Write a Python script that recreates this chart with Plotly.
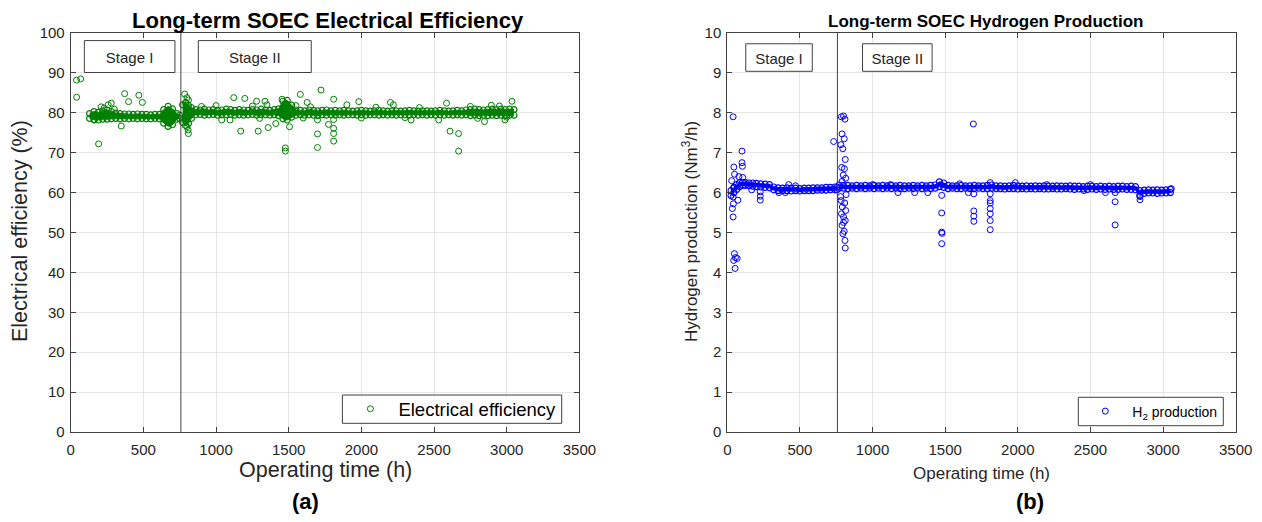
import plotly.graph_objects as go

# ---------------- data ----------------
STAGE_SPLIT_H = 758

# (a) electrical efficiency: dense band edges (Stage I)
eff_t1 = [130, 160, 190, 220, 250, 280, 310, 340, 370, 400, 430, 460, 490, 520, 550, 580, 610, 640, 670, 700, 730, 750]
eff_hi1 = [79.8, 80.3, 80.1, 80.5, 80.7, 80.3, 79.9, 79.8, 79.7, 79.7, 79.6, 79.7, 79.6, 79.6, 79.5, 79.6, 79.6, 80.8, 81.6, 81.0, 79.8, 79.4]
eff_lo1 = [78.6, 78.3, 78.2, 78.4, 78.4, 78.5, 78.6, 78.5, 78.6, 78.5, 78.6, 78.5, 78.6, 78.5, 78.5, 78.6, 78.5, 77.4, 76.6, 77.0, 78.4, 78.6]

# (a) dense band edges (Stage II)
eff_t2 = [770, 790, 810, 830,
          860, 890, 920, 950, 980, 1010, 1040, 1070, 1100, 1130, 1160, 1190, 1220, 1250, 1280, 1310, 1340, 1370, 1400, 1430,
          1460, 1490, 1520,
          1550, 1580, 1610, 1640, 1670, 1700, 1730, 1760, 1790, 1820,
          1850, 1880, 1910, 1940, 1970, 2000, 2030, 2060, 2090, 2120,
          2150, 2180, 2210, 2240, 2270, 2300, 2330, 2360, 2390, 2420,
          2450, 2480, 2510, 2540, 2570, 2600, 2630, 2660, 2690, 2720,
          2750, 2780, 2810, 2840, 2870, 2900, 2930, 2960, 2990, 3020,
          3050]
eff_hi2 = [82.0, 82.6, 81.9, 81.3,
           80.8, 80.7, 80.9, 80.7, 80.8, 80.6, 80.7, 80.9, 80.8, 80.6, 80.8, 80.7, 80.6, 80.8, 80.7, 80.9, 80.7, 80.6, 80.8, 81.0,
           82.9, 83.1, 81.9,
           80.7, 80.6, 80.5, 80.7, 80.6, 80.5, 80.6, 80.7, 80.5, 80.6,
           80.5, 80.6, 80.5, 80.4, 80.5, 80.6, 80.5, 80.4, 80.5, 80.6,
           80.5, 80.4, 80.5, 80.5, 80.4, 80.5, 80.6, 80.5, 80.4, 80.5,
           80.5, 80.4, 80.5, 80.6, 80.5, 80.4, 80.5, 80.6, 80.5, 80.7,
           80.8, 80.9, 80.8, 80.7, 80.8, 80.9, 80.8, 80.9, 80.8, 80.9,
           80.8]
eff_lo2 = [77.6, 76.8, 77.3, 78.6,
           79.5, 79.6, 79.4, 79.5, 79.6, 79.4, 79.5, 79.5, 79.6, 79.4, 79.5, 79.4, 79.5, 79.6, 79.4, 79.5, 79.5, 79.4, 79.5, 79.3,
           78.5, 78.2, 78.9,
           79.4, 79.5, 79.4, 79.5, 79.4, 79.3, 79.5, 79.4, 79.5, 79.4,
           79.5, 79.4, 79.5, 79.5, 79.4, 79.5, 79.4, 79.5, 79.5, 79.4,
           79.5, 79.4, 79.5, 79.4, 79.5, 79.5, 79.4, 79.5, 79.4, 79.5,
           79.4, 79.5, 79.4, 79.5, 79.4, 79.5, 79.4, 79.5, 79.4, 79.5,
           79.3, 79.4, 79.3, 79.4, 79.3, 79.4, 79.3, 79.4, 79.3, 79.4,
           79.4]

# (a) scattered readings away from the band
eff_out_t = [40, 69, 41, 163, 192, 258, 279, 348, 371, 398, 469, 493, 230, 300, 210,
             784, 800, 810, 795, 808, 810, 800, 790,
             1039, 1096, 1122, 1170, 1198, 1279, 1290, 1337, 1359, 1411, 1454, 1477, 1477, 1506,
             1580, 1627, 1698, 1698, 1698, 1722, 1774, 1809, 1809, 1809, 1809, 1809,
             1900, 1982, 2200, 2220, 2342, 2532, 2586, 2610, 2669, 2669, 2847, 2894, 2988, 3036,
             900, 1000, 1250, 1350, 1550, 1650, 2100, 2400, 2750, 2950,
             1300, 1600, 2000, 2300, 2800, 3000]
eff_out_v = [88.2, 88.5, 83.9, 78.2, 72.2, 82.0, 82.4, 76.7, 84.8, 82.8, 84.4, 82.6, 81.2, 80.9, 81.5,
             84.7, 83.8, 83.2, 82.4, 75.7, 74.8, 76.5, 78.0,
             78.2, 78.2, 83.8, 75.4, 83.6, 82.9, 75.4, 82.9, 76.3, 77.3, 83.4, 71.2, 70.4, 76.5,
             84.6, 82.6, 78.2, 74.7, 71.3, 85.7, 77.1, 83.4, 78.3, 76.1, 74.8, 72.9,
             82.0, 82.8, 82.6, 82.0, 78.2, 78.2, 82.4, 75.4, 74.8, 70.4, 77.8, 81.9, 78.2, 82.9,
             81.6, 81.8, 81.7, 82.0, 81.8, 81.5, 81.4, 81.3, 81.6, 81.7,
             78.6, 78.7, 78.7, 78.8, 78.6, 78.9]

# (b) hydrogen production: dense band (Stage I)
h2_t1 = [25, 45, 65, 85, 105, 125, 150, 175, 200, 230, 260, 290, 320, 350, 380, 410, 440, 470, 500, 530, 560, 590, 620, 650, 680, 710, 740, 755]
h2_hi1 = [6.05, 6.12, 6.20, 6.25, 6.26, 6.25, 6.24, 6.24, 6.23, 6.22, 6.21, 6.20, 6.14, 6.12, 6.11, 6.12, 6.11, 6.11, 6.10, 6.11, 6.11, 6.12, 6.12, 6.12, 6.13, 6.13, 6.14, 6.14]
h2_lo1 = [5.93, 6.00, 6.08, 6.15, 6.18, 6.18, 6.17, 6.16, 6.15, 6.14, 6.13, 6.12, 6.07, 6.05, 6.05, 6.05, 6.04, 6.05, 6.04, 6.05, 6.05, 6.05, 6.06, 6.06, 6.06, 6.07, 6.07, 6.07]

# (b) dense band (Stage II)
h2_t2 = [770, 800, 830, 860, 890, 920, 950, 980, 1010, 1040,
         1070, 1100, 1130, 1160, 1190, 1220, 1250, 1280, 1310, 1340,
         1370, 1400, 1430, 1460, 1490, 1520, 1550, 1580, 1610, 1640,
         1670, 1700, 1730, 1760, 1790, 1820, 1850, 1880, 1910, 1940,
         1970, 2000, 2030, 2060, 2090, 2120, 2150, 2180, 2210, 2240,
         2270, 2300, 2330, 2360, 2390, 2420, 2450, 2480, 2510, 2540,
         2570, 2600, 2630, 2660, 2690, 2720, 2750, 2780, 2810, 2840,
         2870, 2900, 2930, 2960, 2990, 3020, 3050]
h2_hi2 = [6.19, 6.18, 6.18, 6.17, 6.18, 6.17, 6.18, 6.17, 6.18, 6.17,
          6.18, 6.17, 6.18, 6.17, 6.18, 6.17, 6.17, 6.18, 6.17, 6.18,
          6.17, 6.18, 6.19, 6.27, 6.24, 6.18, 6.17, 6.17, 6.18, 6.17,
          6.17, 6.18, 6.17, 6.17, 6.18, 6.19, 6.17, 6.17, 6.16, 6.17,
          6.18, 6.17, 6.16, 6.17, 6.16, 6.17, 6.16, 6.17, 6.16, 6.16,
          6.17, 6.16, 6.16, 6.17, 6.16, 6.16, 6.15, 6.16, 6.16, 6.15,
          6.16, 6.15, 6.16, 6.15, 6.16, 6.16, 6.15, 6.16, 6.15, 6.05,
          6.06, 6.07, 6.06, 6.07, 6.06, 6.07, 6.08]
h2_lo2 = [6.11, 6.11, 6.10, 6.11, 6.10, 6.11, 6.10, 6.11, 6.10, 6.11,
          6.10, 6.11, 6.10, 6.11, 6.10, 6.10, 6.11, 6.10, 6.11, 6.10,
          6.11, 6.10, 6.11, 6.15, 6.13, 6.10, 6.11, 6.10, 6.10, 6.11,
          6.10, 6.10, 6.11, 6.10, 6.10, 6.11, 6.10, 6.10, 6.09, 6.10,
          6.10, 6.09, 6.10, 6.09, 6.10, 6.09, 6.10, 6.09, 6.09, 6.10,
          6.09, 6.09, 6.10, 6.09, 6.08, 6.09, 6.09, 6.08, 6.09, 6.08,
          6.09, 6.08, 6.09, 6.08, 6.08, 6.09, 6.08, 6.08, 6.07, 5.93,
          5.98, 5.99, 5.99, 5.98, 5.99, 5.99, 6.00]

# (b) scattered readings
h2_out_t = [40, 101, 101, 104, 45, 50, 80, 106, 45, 40, 42, 73, 40, 49, 56, 68, 54, 44, 168, 227, 227, 227, 423, 470, 355, 400, 732, 30, 35,
            785, 800, 810, 790, 805, 782, 795, 812, 788, 806, 798, 815, 790, 784, 808, 792, 815, 786, 800, 812, 790, 805, 796, 810, 812, 780, 818, 800,
            1694, 1476, 1476, 1476, 1478, 1476, 1697, 1697, 1697, 1697,
            1810, 1810, 1810, 1810, 1810, 1810, 1810, 1810,
            2670, 2670, 2670, 2841, 2841, 1983, 1123, 1290, 1380, 1175, 1660, 2454, 2603, 3057, 1000, 1600, 2200, 2500]
h2_out_v = [7.90, 7.04, 6.75, 6.66, 6.64, 6.46, 6.40, 6.38, 6.14, 5.89, 5.72, 5.81, 5.39, 4.47, 4.37, 4.35, 4.10, 4.30, 6.07, 6.02, 5.91, 5.81, 6.20, 6.17, 6.00, 6.00, 7.28, 6.30, 5.60,
            7.90, 7.92, 7.84, 7.47, 7.35, 7.20, 7.10, 6.83, 6.63, 6.60, 6.44, 6.36, 6.28, 5.80, 5.74, 5.64, 5.55, 5.47, 5.39, 5.30, 5.18, 5.03, 4.97, 4.80, 4.61, 5.90, 5.95, 5.25,
            7.72, 5.93, 5.49, 5.01, 4.98, 4.72, 5.97, 5.54, 5.41, 5.28,
            6.25, 5.97, 5.80, 5.74, 5.60, 5.47, 5.30, 5.07,
            6.00, 5.77, 5.19, 5.82, 5.90, 6.25, 6.20, 6.00, 6.00, 6.00, 6.00, 6.05, 6.00, 6.10, 6.20, 6.22, 6.20, 6.20]

x_ticks = [0, 500, 1000, 1500, 2000, 2500, 3000, 3500]

# ---------------- styling ----------------
WIN_W, WIN_H = 1262, 522
OFF = 8                          # default page body margin
W, H = WIN_W - 2 * OFF, WIN_H - 2 * OFF
FONT = "Liberation Sans, Arial, Helvetica, sans-serif"
GREEN = "#008000"
BLUE = "#0000ff"
AX = "#404040"

def px_x(p):
    return (p - OFF) / W

def px_y(p):
    return (H - (p - OFF)) / H

fig = go.Figure()

def band(t, lo, hi, color, xa, ya):
    mk = dict(symbol="circle-open", size=6, color=color, line=dict(width=1.2))
    fig.add_trace(go.Scatter(x=t, y=lo, mode="lines+markers", xaxis=xa, yaxis=ya, showlegend=False,
                             line=dict(width=1, color=color), marker=mk, hoverinfo="skip"))
    fig.add_trace(go.Scatter(x=t, y=hi, mode="lines+markers", xaxis=xa, yaxis=ya, showlegend=False,
                             fill="tonexty", fillcolor=color, line=dict(width=1, color=color),
                             marker=mk, hoverinfo="skip"))

band(eff_t1, eff_lo1, eff_hi1, GREEN, "x", "y")
band(eff_t2, eff_lo2, eff_hi2, GREEN, "x", "y")
fig.add_trace(go.Scatter(x=eff_out_t, y=eff_out_v, mode="markers", xaxis="x", yaxis="y",
                         name="Electrical efficiency", legend="legend",
                         marker=dict(symbol="circle-open", size=6, color=GREEN, line=dict(width=1))))

band(h2_t1, h2_lo1, h2_hi1, BLUE, "x2", "y2")
band(h2_t2, h2_lo2, h2_hi2, BLUE, "x2", "y2")
fig.add_trace(go.Scatter(x=h2_out_t, y=h2_out_v, mode="markers", xaxis="x2", yaxis="y2",
                         name="H<sub>2</sub> production", legend="legend2",
                         marker=dict(symbol="circle-open", size=6, color=BLUE, line=dict(width=1))))

ydom = [px_y(432.0), px_y(33.0)]
axis_common = dict(showline=True, linecolor=AX, linewidth=1, mirror="ticks", ticks="inside", ticklen=5,
                   tickcolor=AX, showgrid=True, gridcolor="#e6e6e6", gridwidth=1, zeroline=False,
                   automargin=False,
                   tickfont=dict(family=FONT, size=15, color="#262626"))

fig.update_layout(
    width=W, height=H, margin=dict(l=0, r=0, t=0, b=0, autoexpand=False),
    paper_bgcolor="white", plot_bgcolor="white",
    font=dict(family=FONT, color="#262626"),
    xaxis=dict(domain=[px_x(70.7), px_x(579.4)], range=[0, 3500], tickvals=x_ticks, anchor="y",
               ticklabelstandoff=4, **axis_common),
    yaxis=dict(domain=ydom, range=[0, 100], dtick=10, anchor="x", ticklabelstandoff=2, **axis_common),
    xaxis2=dict(domain=[px_x(727.3), px_x(1235.7)], range=[0, 3500], tickvals=x_ticks, anchor="y2",
                ticklabelstandoff=4, **axis_common),
    yaxis2=dict(domain=ydom, range=[0, 10], dtick=1, anchor="x2", ticklabelstandoff=2, **axis_common),
    legend=dict(x=px_x(342.4), y=px_y(409.2), xanchor="left", yanchor="middle",
                borderwidth=0, bgcolor="rgba(0,0,0,0)", itemwidth=46,
                font=dict(family=FONT, size=18.5, color="#000000")),
    legend2=dict(x=px_x(1078.3), y=px_y(411.5), xanchor="left", yanchor="middle",
                 borderwidth=0, bgcolor="rgba(0,0,0,0)", itemwidth=44,
                 font=dict(family=FONT, size=14, color="#000000")),
    showlegend=True,
)

# legend frames (drawn as white boxes under the legends)
for x0, x1, y0, y1 in ((342.4, 561.7, 395.0, 423.3), (1078.3, 1223.3, 397.3, 425.7)):
    fig.add_shape(type="rect", xref="paper", yref="paper", layer="above",
                  x0=px_x(x0), x1=px_x(x1), y0=px_y(y1), y1=px_y(y0),
                  line=dict(color=AX, width=1), fillcolor="white")

# stage divider lines and stage boxes
for xr, yr, ytop in (("x", "y", 100), ("x2", "y2", 10)):
    fig.add_shape(type="line", xref=xr, yref=yr, x0=STAGE_SPLIT_H, x1=STAGE_SPLIT_H, y0=0, y1=ytop,
                  line=dict(color=AX, width=1))

stage_boxes = [
    ("x", "y", 94, 717, 90.1, 98.1, "Stage I"),
    ("x", "y", 878, 1655, 90.1, 98.1, "Stage II"),
    ("x2", "y2", 127, 585, 9.04, 9.73, "Stage I"),
    ("x2", "y2", 931, 1410, 9.04, 9.73, "Stage II"),
]
for xr, yr, x0, x1, y0, y1, txt in stage_boxes:
    fig.add_shape(type="rect", xref=xr, yref=yr, x0=x0, x1=x1, y0=y0, y1=y1,
                  line=dict(color=AX, width=1), fillcolor="white",
                  label=dict(text=txt, textposition="middle center",
                             font=dict(family=FONT, size=15, color="#262626")))

def ann(text, xp, yp, size, bold=False, angle=0, color="#262626"):
    fig.add_annotation(text=f"<b>{text}</b>" if bold else text, xref="paper", yref="paper",
                       x=px_x(xp), y=px_y(yp), xanchor="center", yanchor="middle",
                       showarrow=False, textangle=angle,
                       font=dict(family=FONT, size=size, color=color))

ann("Long-term SOEC Electrical Efficiency", 328, 21, 22, bold=True, color="#000000")
ann("Long-term SOEC Hydrogen Production", 985, 22, 17, bold=True, color="#000000")
ann("Electrical efficiency (%)", 20, 231, 21.5, angle=-90)
ann("Operating time (h)", 325, 470, 21.5)
ann("Hydrogen production (Nm<sup>3</sup>/h)", 690, 232, 17, angle=-90)
ann("Operating time (h)", 981, 473, 17)
ann("(a)", 305, 501, 22, bold=True, color="#000000")
ann("(b)", 1030, 501, 22, bold=True, color="#000000")

fig.write_html("out.html")
